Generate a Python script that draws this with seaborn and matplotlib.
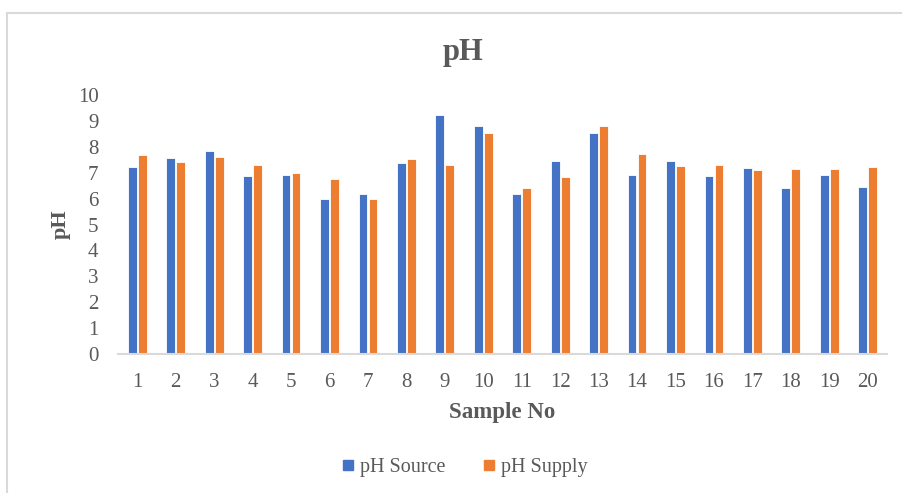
import matplotlib
matplotlib.use("Agg")
import matplotlib.pyplot as plt
from matplotlib.lines import Line2D
import seaborn as sns
import pandas as pd

samples = [str(i) for i in range(1, 21)]
ph_source = [7.23, 7.57, 7.86, 6.86, 6.90, 5.98, 6.19, 7.36, 9.24, 8.82,
             6.19, 7.44, 8.52, 6.90, 7.44, 6.86, 7.19, 6.40, 6.90, 6.44]
ph_supply = [7.70, 7.40, 7.61, 7.32, 6.98, 6.77, 5.98, 7.52, 7.32, 8.52,
             6.40, 6.85, 8.82, 7.73, 7.27, 7.32, 7.10, 7.16, 7.16, 7.23]
series = ["pH Source", "pH Supply"]
y_ticks = list(range(0, 11))

df = pd.DataFrame({
    "Sample No": samples * 2,
    "pH": ph_source + ph_supply,
    "series": [series[0]] * len(samples) + [series[1]] * len(samples),
})

sns.set_theme(style="white")
plt.rcParams["font.family"] = ["Liberation Serif", "DejaVu Serif"]

TXT = "#595959"
colors = {"pH Source": "#4472C4", "pH Supply": "#ED7D31"}

fig = plt.figure(figsize=(9.02, 4.93), dpi=100)
ax = fig.add_axes([0.1308, 0.282, 0.8526, 0.525])

sns.barplot(data=df, x="Sample No", y="pH", hue="series", order=samples,
            hue_order=series, palette=colors, saturation=1, width=0.52, gap=0.12,
            edgecolor="white", linewidth=0.6, ax=ax, legend=False)

ax.set_ylim(0, 10)
ax.set_xlim(-0.5, len(samples) - 0.5)
ax.set_yticks(y_ticks)
ax.tick_params(axis="both", length=0, colors=TXT, labelsize=15)
ax.tick_params(axis="y", pad=14)
ax.tick_params(axis="x", pad=14)
for s in ["top", "right", "left"]:
    ax.spines[s].set_visible(False)
ax.spines["bottom"].set_color("#D9D9D9")
ax.spines["bottom"].set_linewidth(1.5)

ax.set_xlabel("Sample No", fontsize=16.5, fontweight="bold", color=TXT, labelpad=7)
ax.set_ylabel("pH", fontsize=16, fontweight="bold", color=TXT, labelpad=5)
fig.text(0.513, 0.893, "pH", ha="center", va="center", fontsize=22,
         fontweight="bold", color=TXT)

handles = [Line2D([0], [0], marker="s", linestyle="none", markersize=7.5,
                  markerfacecolor=colors[s], markeredgecolor=colors[s]) for s in series]
fig.legend(handles, series, loc="center", bbox_to_anchor=(0.515, 0.052), ncol=2,
           frameon=False, fontsize=14.5, labelcolor=TXT, handlelength=0.7,
           handletextpad=0.25, columnspacing=1.8)

# light frame around the chart area
fig.add_artist(Line2D([7 / 902, 1.0], [1 - 13 / 493] * 2, color="#D9D9D9",
                      linewidth=1.5, transform=fig.transFigure))
fig.add_artist(Line2D([7.5 / 902] * 2, [0.0, 1 - 13 / 493], color="#D9D9D9",
                      linewidth=1.5, transform=fig.transFigure))

fig.savefig("out.png", dpi=100, facecolor="white")
